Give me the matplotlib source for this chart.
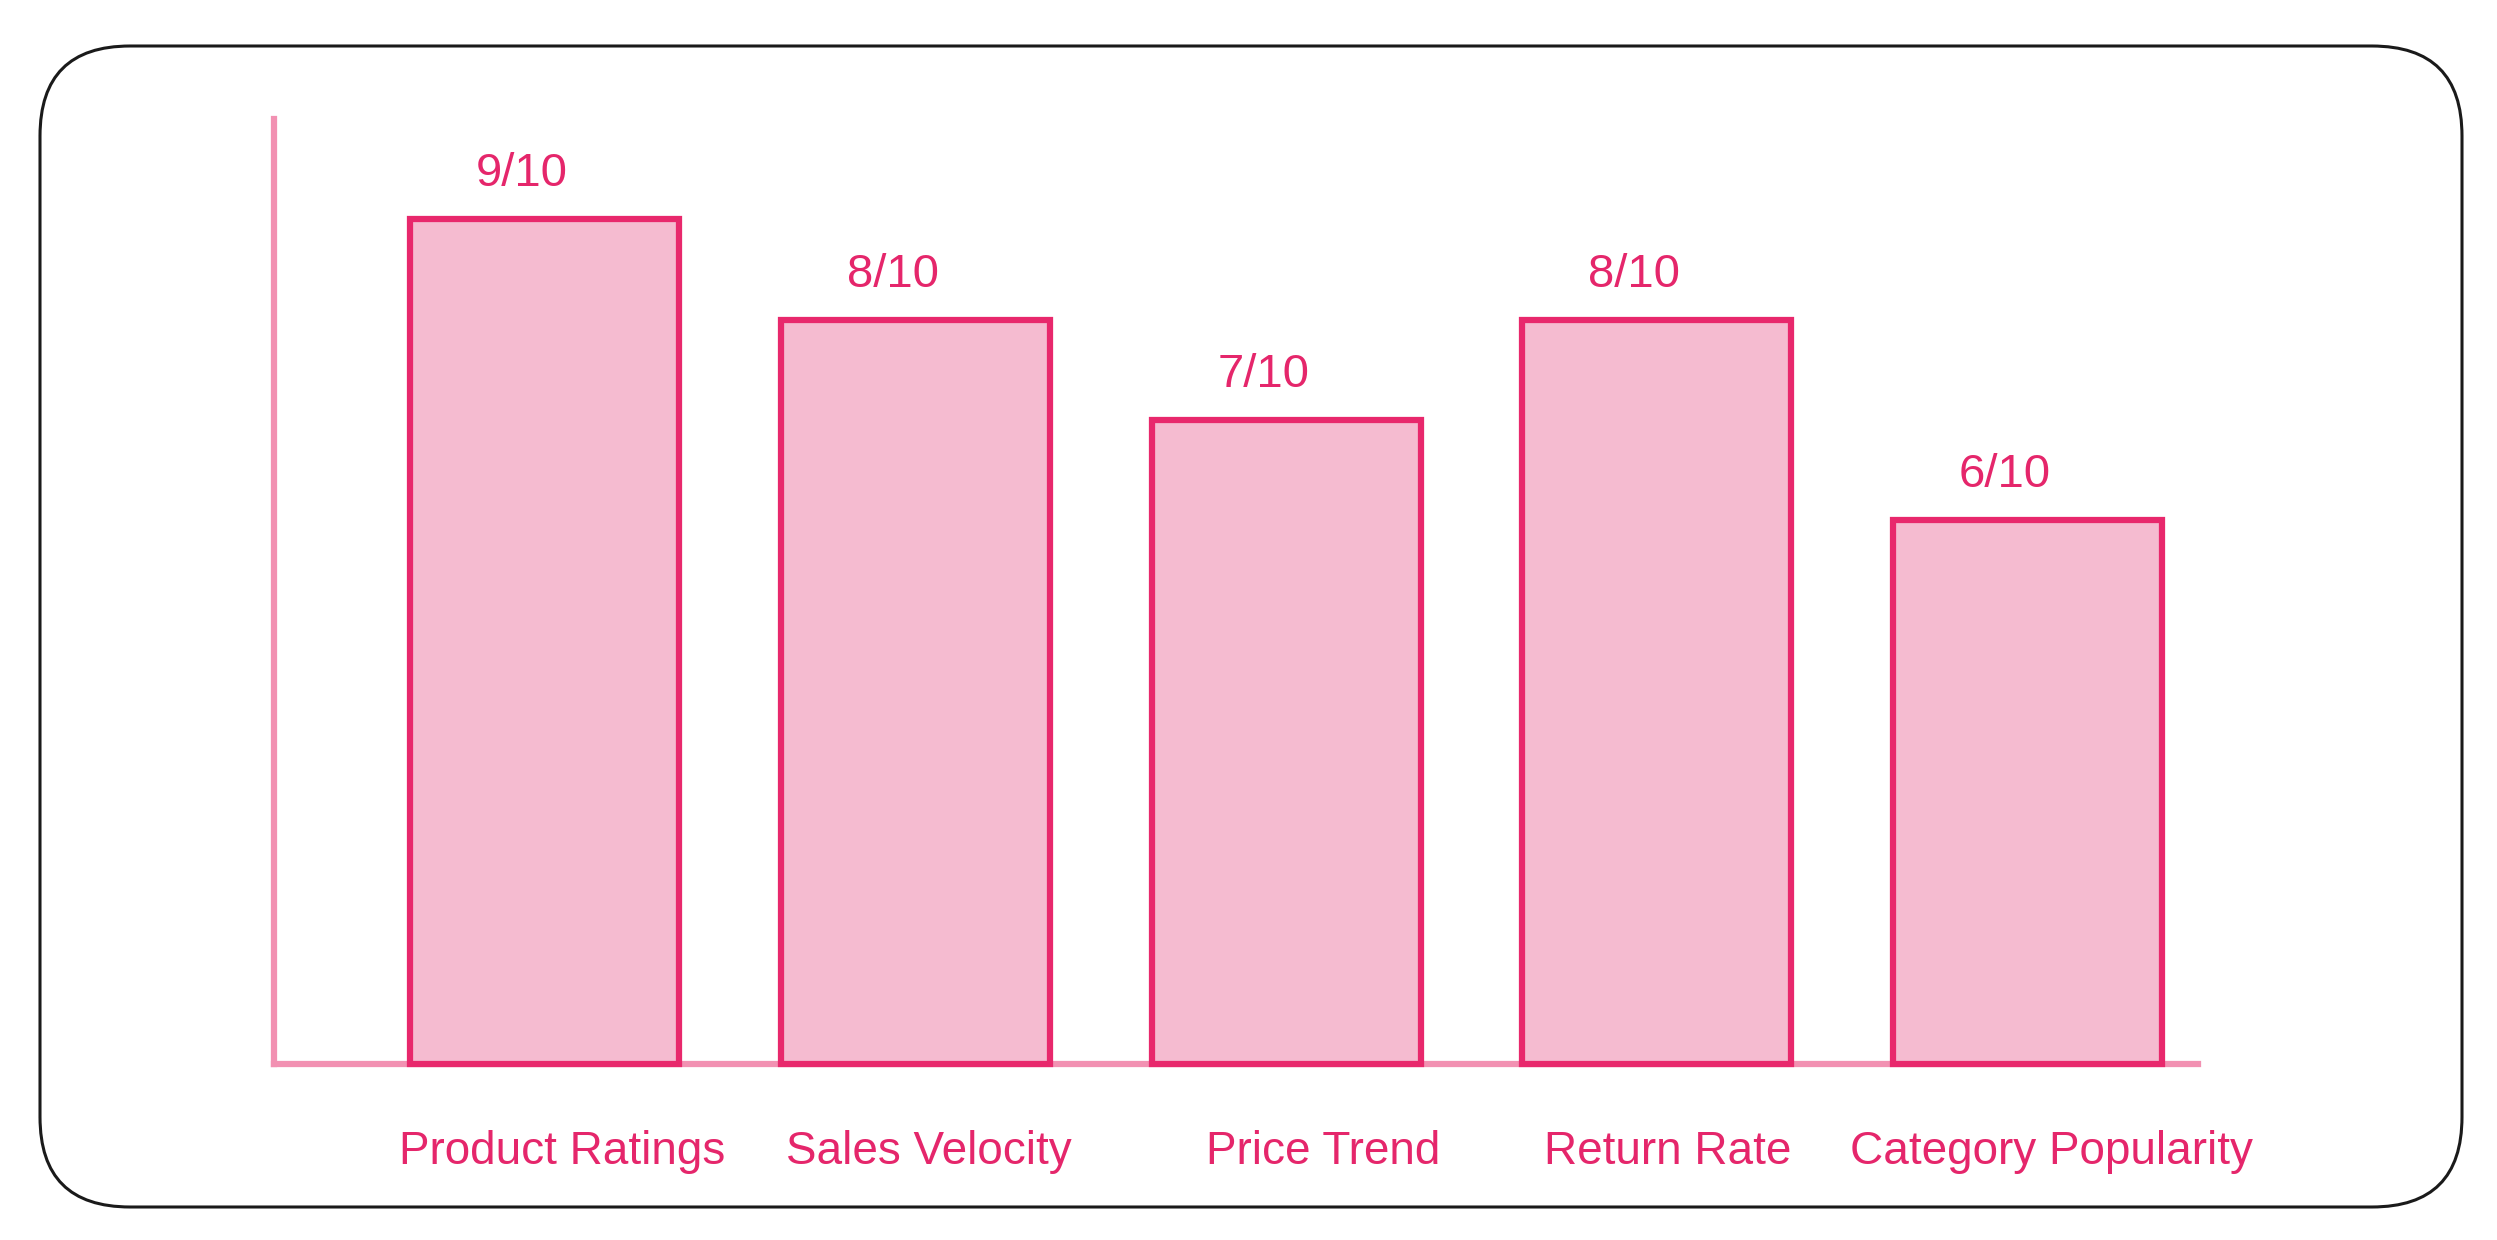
import numpy as np
import matplotlib.pyplot as plt
from matplotlib.patches import FancyBboxPatch

# Data
categories = ["Product Ratings", "Sales Velocity", "Price Trend", "Return Rate", "Category Popularity"]
scores = [9, 8, 7, 8, 6]
score_labels = ["9/10", "8/10", "7/10", "8/10", "6/10"]

# Colours
fill_color = "#F5BBD0"
edge_color = "#E8286C"
axis_color = "#F291B2"
text_color = "#E5266B"

plt.rcParams['font.family'] = ['Liberation Sans', 'DejaVu Sans']

fig = plt.figure(figsize=(24.97, 12.4), dpi=100)
fig.patch.set_facecolor("white")

# Rounded outer frame (drawn in inches so the corners stay circular)
frame = FancyBboxPatch((0.40, 0.33), 24.22, 11.61,
                       boxstyle="round,pad=0,rounding_size=0.9",
                       transform=fig.dpi_scale_trans,
                       facecolor="none", edgecolor="#1a1a1a", linewidth=2.2)
fig.add_artist(frame)

ax = fig.add_axes([0.1097, 0.1419, 0.7706, 0.7621])

x = np.arange(len(categories))
y_base = 0.58
heights = np.array(scores) - y_base
ax.bar(x, heights, bottom=y_base, width=0.726, color=fill_color,
       edgecolor=edge_color, linewidth=4.5, zorder=3, clip_on=False)

# Score labels above the bars
for xi, s, lab in zip(x, scores, score_labels):
    ax.text(xi - 0.062, s + 0.33, lab, ha="center", va="baseline",
            fontsize=34, color=text_color)

# Category labels under the axis (slightly nudged like the original)
label_nudge = [0.046, 0.035, 0.10, 0.03, 0.065]
for xi, cat, dx in zip(x, categories, label_nudge):
    ax.text(xi + dx, -0.106, cat, ha="center", va="baseline", fontsize=33,
            color=text_color, transform=ax.get_xaxis_transform())

ax.set_xlim(-0.731, 4.46)
ax.set_ylim(y_base, 10.0)
ax.set_xticks([])
ax.set_yticks([])

ax.spines['top'].set_visible(False)
ax.spines['right'].set_visible(False)
for side in ['left', 'bottom']:
    ax.spines[side].set_color(axis_color)
    ax.spines[side].set_linewidth(4.5)
ax.patch.set_visible(False)

fig.savefig("out.png", dpi=100)
